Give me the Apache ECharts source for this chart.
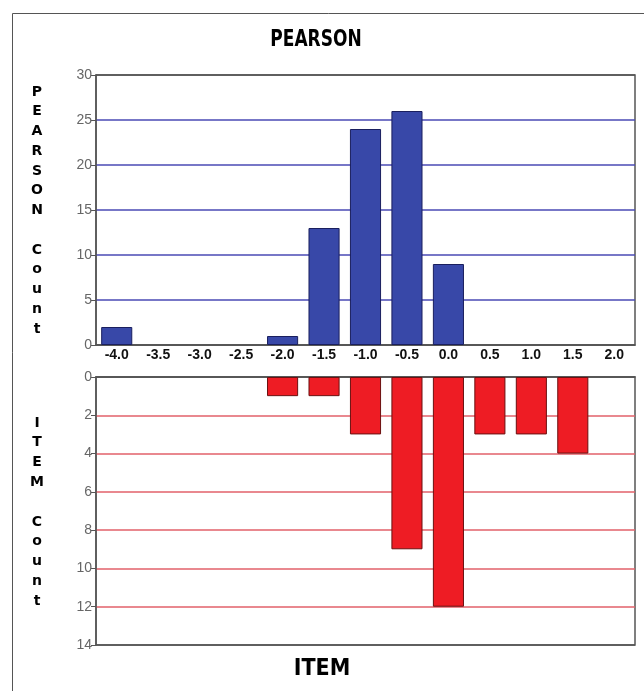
<!DOCTYPE html>
<html>
<head>
<meta charset="utf-8">
<script src="https://cdn.jsdelivr.net/npm/echarts@6/dist/echarts.min.js"></script>
<style>html,body{margin:0;padding:0;background:#fff;}#c{width:644px;height:691px;}</style>
</head>
<body>
<div id="c"></div>
<script>
var categories = ['-4.0','-3.5','-3.0','-2.5','-2.0','-1.5','-1.0','-0.5','0.0','0.5','1.0','1.5','2.0'];
var pearsonCounts = [2, 0, 0, 0, 1, 13, 24, 26, 9, 0, 0, 0, 0];
var itemCounts = [0, 0, 0, 0, 1, 1, 3, 9, 12, 3, 3, 4, 0];
var pearsonTicks = {min: 0, max: 30, interval: 5};
var itemTicks = {min: 0, max: 14, interval: 2};

function hideZero(arr) { return arr.map(function (v) { return v === 0 ? '-' : v; }); }

var chart = echarts.init(document.getElementById('c'), null, {renderer: 'canvas'});
var axisCol = '#555';
var blueGrid = '#4a4ab4';
var redGrid = '#e2606a';
var heavy = 'bold 23px "DejaVu Sans", sans-serif';
var option = {
  animation: false,
  backgroundColor: '#fff',
  graphic: [
    {type: 'rect', left: 10, top: 11, shape: {width: 700, height: 700}, style: {fill: 'none', stroke: '#555', lineWidth: 1}, z: -1},
    {type: 'text', x: 316, y: 40, scaleX: 0.74, style: {text: 'PEARSON', align: 'center', verticalAlign: 'middle', fill: '#000', font: heavy}},
    {type: 'text', x: 322, y: 669, scaleX: 0.9, style: {text: 'ITEM', align: 'center', verticalAlign: 'middle', fill: '#000', font: heavy}},
    {type: 'text', x: 37, y: 82, style: {text: 'P\nE\nA\nR\nS\nO\nN\n \nC\no\nu\nn\nt', align: 'center', fill: '#000', font: 'bold 14px "DejaVu Sans", sans-serif', lineHeight: 19.75}},
    {type: 'text', x: 37, y: 413, style: {text: 'I\nT\nE\nM\n \nC\no\nu\nn\nt', align: 'center', fill: '#000', font: 'bold 14px "DejaVu Sans", sans-serif', lineHeight: 19.8}}
  ],
  grid: [
    {left: 96, top: 75, width: 539, height: 270, show: true, borderColor: axisCol, borderWidth: 1.5, backgroundColor: '#fff'},
    {left: 96, top: 377, width: 539, height: 268, show: true, borderColor: axisCol, borderWidth: 1.5, backgroundColor: '#fff'}
  ],
  xAxis: [
    {type: 'category', gridIndex: 0, data: categories, position: 'bottom',
     axisLine: {lineStyle: {color: axisCol, width: 1.5}},
     axisTick: {alignWithLabel: true, length: 5, lineStyle: {color: axisCol}},
     axisLabel: {color: '#111', fontWeight: 'bold', fontSize: 14, margin: 3, fontFamily: "'Liberation Sans', Arial, sans-serif", interval: 0}},
    {type: 'category', gridIndex: 1, data: categories, position: 'top',
     axisLine: {lineStyle: {color: axisCol, width: 1.5}},
     axisTick: {alignWithLabel: true, length: 5, lineStyle: {color: axisCol}},
     axisLabel: {show: false}}
  ],
  yAxis: [
    {type: 'value', gridIndex: 0, min: pearsonTicks.min, max: pearsonTicks.max, interval: pearsonTicks.interval,
     axisLine: {show: true, lineStyle: {color: axisCol, width: 1.5}},
     axisTick: {show: true, length: 5, lineStyle: {color: axisCol}},
     axisLabel: {color: '#666', fontSize: 14, margin: 4, fontFamily: "'Liberation Sans', Arial, sans-serif"},
     splitLine: {show: true, lineStyle: {color: [axisCol, blueGrid, blueGrid, blueGrid, blueGrid, blueGrid, axisCol], width: 1.5}}},
    {type: 'value', gridIndex: 1, inverse: true, min: itemTicks.min, max: itemTicks.max, interval: itemTicks.interval,
     axisLine: {show: true, lineStyle: {color: axisCol, width: 1.5}},
     axisTick: {show: true, length: 5, lineStyle: {color: axisCol}},
     axisLabel: {color: '#666', fontSize: 14, margin: 4, fontFamily: "'Liberation Sans', Arial, sans-serif"},
     splitLine: {show: true, lineStyle: {color: [axisCol, redGrid, redGrid, redGrid, redGrid, redGrid, redGrid, axisCol], width: 1.5}}}
  ],
  series: [
    {type: 'bar', xAxisIndex: 0, yAxisIndex: 0, data: hideZero(pearsonCounts), barCategoryGap: '25%',
     itemStyle: {color: '#3848a8', borderColor: '#1a1f5e', borderWidth: 1}},
    {type: 'bar', xAxisIndex: 1, yAxisIndex: 1, data: hideZero(itemCounts), barCategoryGap: '25%',
     itemStyle: {color: '#ee1c24', borderColor: '#6a1010', borderWidth: 1}}
  ]
};
chart.setOption(option);
</script>
</body>
</html>
